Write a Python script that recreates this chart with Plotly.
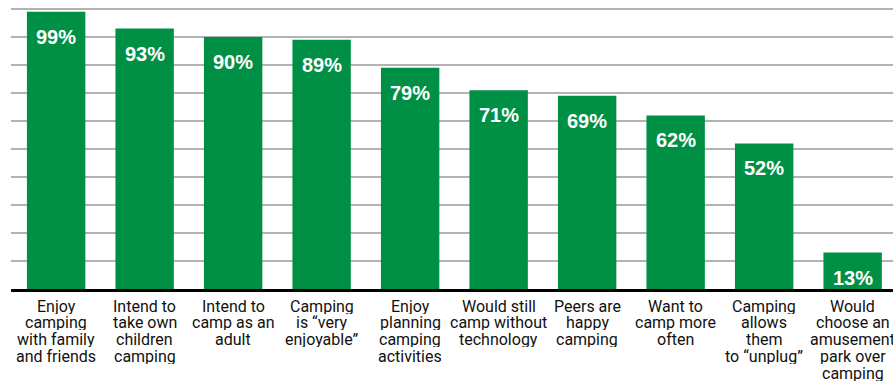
import plotly.graph_objects as go

categories = [
    "Enjoy<br>camping<br>with family<br>and friends",
    "Intend to<br>take own<br>children<br>camping",
    "Intend to<br>camp as an<br>adult",
    "Camping<br>is “very<br>enjoyable”",
    "Enjoy<br>planning<br>camping<br>activities",
    "Would still<br>camp without<br>technology",
    "Peers are<br>happy<br>camping",
    "Want to<br>camp more<br>often",
    "Camping<br>allows<br>them<br>to “unplug”",
    "Would<br>choose an<br>amusement<br>park over<br>camping",
]
values = [99, 93, 90, 89, 79, 71, 69, 62, 52, 13]
value_labels = [f"{v}%" for v in values]

GREEN = "#009045"
x_idx = list(range(len(categories)))

fig = go.Figure(go.Bar(
    x=x_idx, y=values, marker=dict(color=GREEN, line=dict(width=0)),
    width=0.66, hoverinfo="skip",
))

annotations = []
for i, (v, lab) in enumerate(zip(values, value_labels)):
    annotations.append(dict(
        x=i, y=v, xref="x", yref="y", text=f"<b>{lab}</b>", showarrow=False,
        yanchor="top", yshift=-12,
        font=dict(family="Liberation Sans, Arial, sans-serif", size=20, color="white"),
    ))
for i, cat in enumerate(categories):
    for j, line in enumerate(cat.split("<br>")):
        annotations.append(dict(
            x=i, y=0, xref="x", yref="y", text=line, showarrow=False,
            yanchor="middle", yshift=-(16.5 + 16.9 * j), height=16,
            font=dict(family="Roboto, sans-serif", size=16, color="#111111"),
        ))

fig.update_layout(
    width=893, height=381,
    margin=dict(l=11, r=0, t=0, b=92),
    paper_bgcolor="white", plot_bgcolor="white",
    showlegend=False,
    annotations=annotations,
    shapes=[dict(type="line", xref="paper", yref="y", x0=0, x1=1, y0=90, y1=90,
                 line=dict(color="#7a7a7a", width=1.5), layer="below")],
    xaxis=dict(range=[-0.51, 9.456], showticklabels=False, showgrid=False, zeroline=False,
               showline=True, linecolor="black", linewidth=2.5, ticks=""),
    yaxis=dict(range=[0, 103.2], showticklabels=False, showgrid=True, gridcolor="#b3b3b3",
               gridwidth=1.5, dtick=10, tick0=0, zeroline=False, showline=False, ticks=""),
)
fig.write_html("out.html")
